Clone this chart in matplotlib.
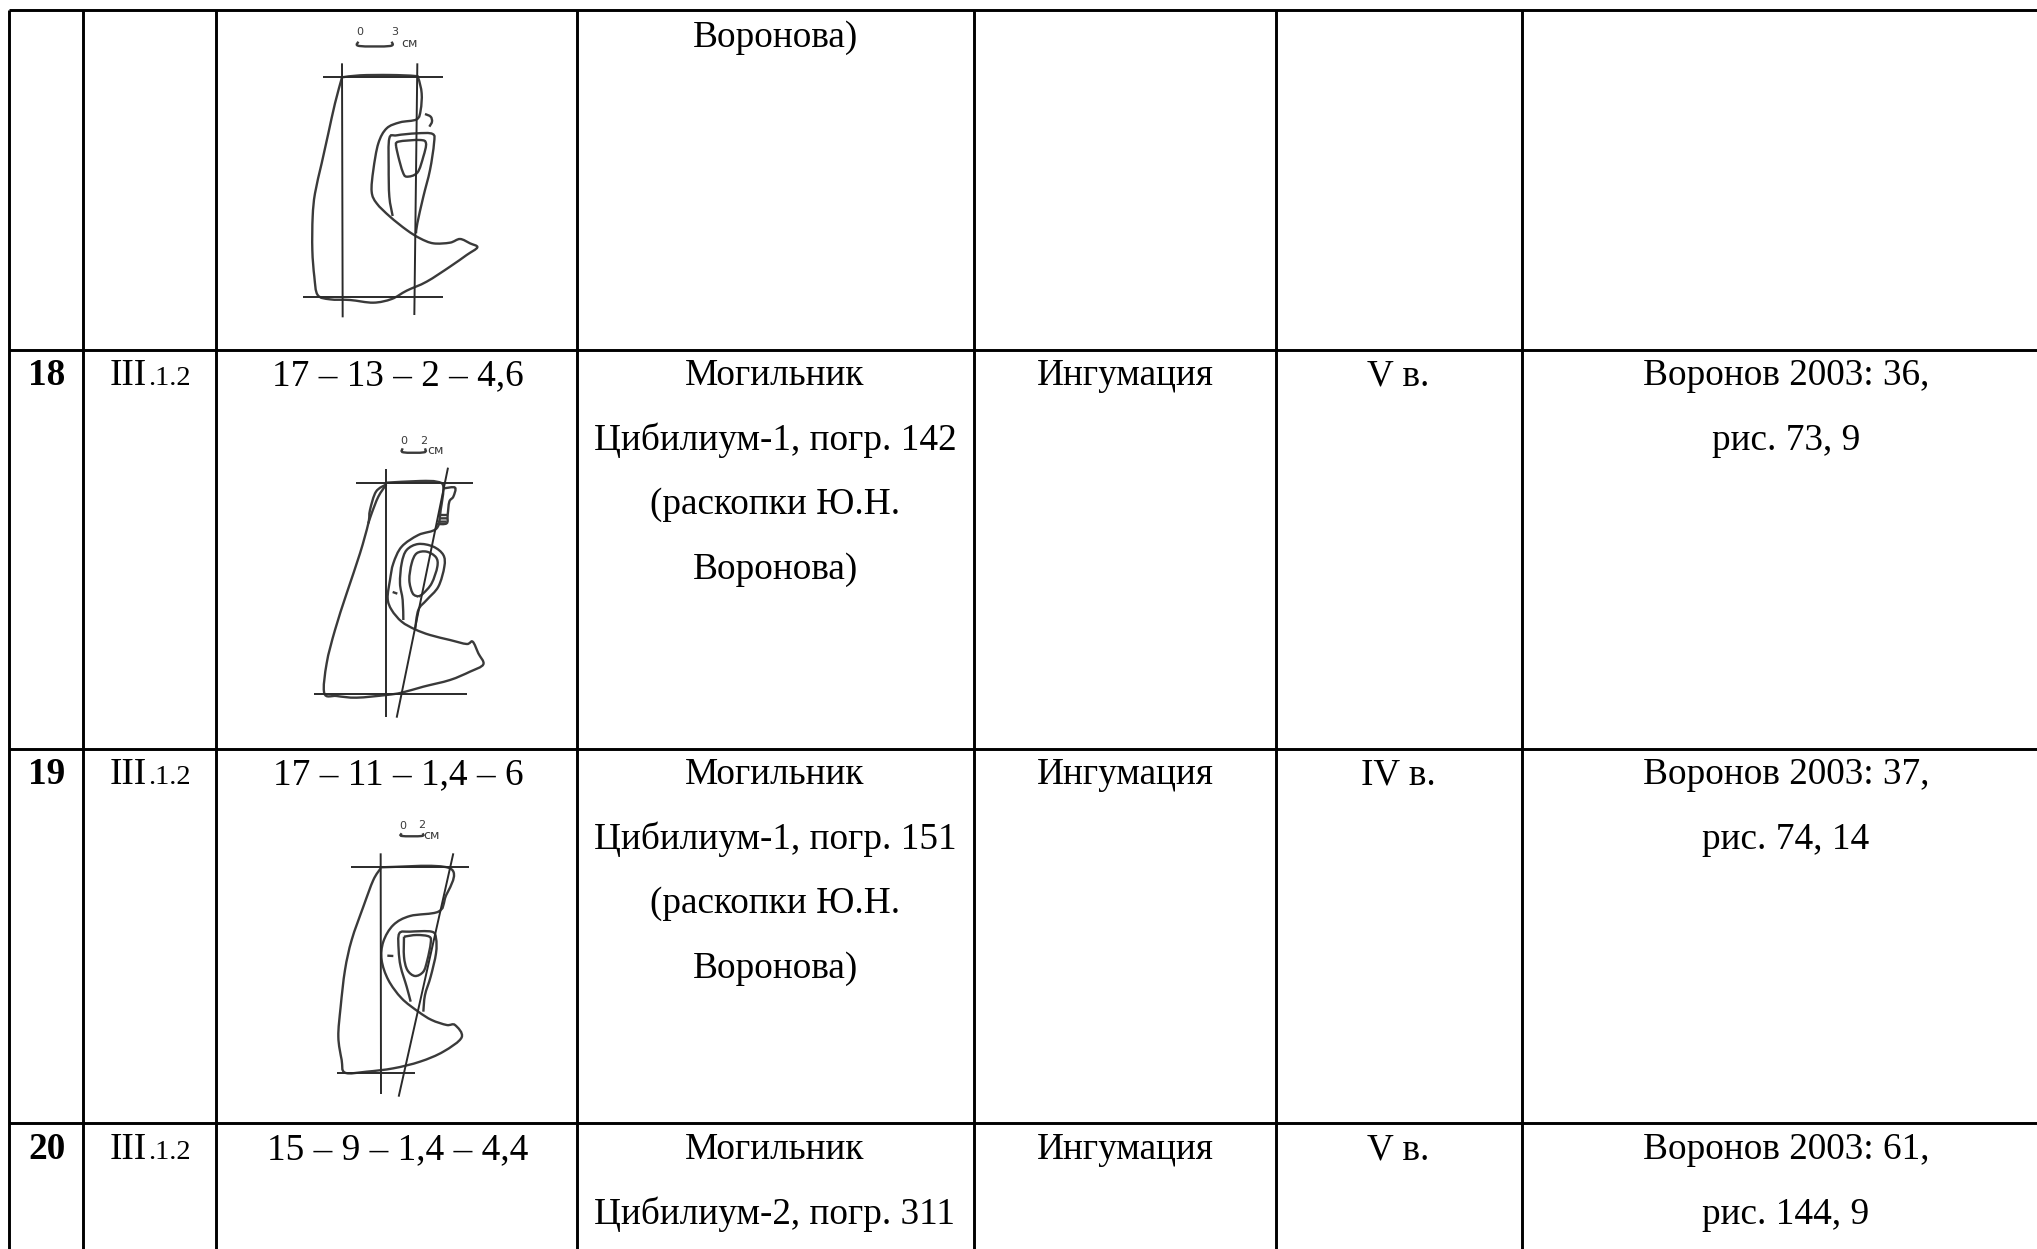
import matplotlib
matplotlib.use("Agg")
import matplotlib.pyplot as plt
from matplotlib.path import Path
from matplotlib.patches import PathPatch

plt.rcParams['font.family'] = ['Liberation Serif', 'DejaVu Serif']

W, H = 2037, 1249

## table grid, full size pixels
col_x = [9, 83, 216, 577, 974, 1276, 1522]
row_y = [10, 350, 749, 1123]

## rows of text
numbers = ["18", "19", "20"]
number_y = [385, 784, 1159]
sizes = ["17 – 13 – 2 – 4,6", "17 – 11 – 1,4 – 6", "15 – 9 – 1,4 – 4,4"]
places = [["Могильник", "Цибилиум-1, погр. 142", "(раскопки Ю.Н.", "Воронова)"],
          ["Могильник", "Цибилиум-1, погр. 151", "(раскопки Ю.Н.", "Воронова)"],
          ["Могильник", "Цибилиум-2, погр. 311"]]
rite = ["Ингумация", "Ингумация", "Ингумация"]
dates = ["V в.", "IV в.", "V в."]
refs = [["Воронов 2003: 36,", "рис. 73, 9"],
        ["Воронов 2003: 37,", "рис. 74, 14"],
        ["Воронов 2003: 61,", "рис. 144, 9"]]
top_text = "Воронова)"

d1_off = (280, 0)
d1_lines = [[(130, 231), (490, 231)], [(186, 190), (188, 952)], [(412, 190), (403, 945)], [(68, 890), (490, 890)]]
d1_curves = [
    [(186, 232), (165, 310), (145, 400), (125, 490), (105, 580), (98, 650), (97, 750), (103, 830), (113, 885),
     (150, 898), (210, 900), (280, 908), (335, 897), (380, 872), (440, 845), (510, 800), (560, 765), (592, 742),
     (570, 730), (540, 717), (510, 728), (460, 730), (420, 715), (380, 690), (330, 650), (290, 610), (275, 575),
     (280, 510), (295, 430), (320, 385), (360, 367), (410, 358), (422, 330), (425, 280), (415, 235), (405, 228),
     (330, 225), (240, 226), (186, 232)],
    [(338, 648), (328, 590), (326, 500), (328, 415), (350, 406), (410, 400), (458, 402), (462, 430), (450, 510),
     (430, 590), (412, 670), (408, 700)],
    [(348, 438), (355, 425), (420, 420), (438, 430), (430, 470), (412, 518), (380, 530), (368, 515), (355, 470),
     (348, 438)],
    [(435, 342), (452, 350), (456, 365), (448, 380)],
    [(235, 125), (238, 138), (330, 138), (335, 125)],
]
d1_labels = [(238, 95, "0"), (345, 95, "3"), (390, 130, "см")]

## drawing 2 (offset 290,420)
d2_off = (290, 420)
d2_lines = [[(198, 188), (550, 188)], [(289, 148), (289, 892)], [(474, 143), (320, 893)], [(72, 823), (532, 823)]]
d2_curves = [
    [(289, 193), (258, 215), (240, 270), (235, 310), (210, 400), (170, 520), (135, 630), (110, 730), (103, 820),
     (140, 828), (200, 833), (289, 825), (335, 818), (400, 800), (480, 780), (540, 755), (580, 733), (565, 700),
     (548, 665), (530, 672), (480, 660), (420, 645), (375, 628), (335, 605), (305, 570), (293, 535), (300, 480),
     (310, 430), (335, 380), (385, 345), (440, 325), (452, 270), (460, 200), (440, 185), (390, 183), (289, 188)],
    [(289, 193), (265, 230), (245, 280), (235, 310)],
    [(462, 205), (495, 203), (490, 230), (478, 245), (473, 285), (470, 310), (440, 312)],
    [(450, 285), (472, 285)], [(447, 295), (471, 295)], [(444, 305), (470, 305)],
    [(340, 600), (338, 540), (330, 490), (335, 430), (350, 390), (385, 372), (430, 380), (460, 405), (463, 440),
     (445, 500), (410, 540), (385, 570), (375, 630)],
    [(385, 530), (368, 520), (358, 480), (365, 430), (380, 400), (410, 395), (438, 412), (442, 440), (425, 490),
     (400, 520), (385, 530)],
    [(308, 516), (322, 521)],
    [(338, 85), (340, 97), (402, 97), (405, 85)],
]
d2_labels = [(342, 62, "0"), (402, 62, "2"), (435, 92, "см")]

## drawing 3 (offset 310,810)
d3_off = (310, 810)
d3_lines = [[(122, 172), (478, 172)], [(212, 130), (213, 852)], [(430, 130), (266, 860)], [(82, 790), (315, 790)]]
d3_curves = [
    [(212, 175), (190, 210), (160, 290), (125, 390), (105, 480), (92, 590), (85, 680), (95, 750), (105, 788),
     (170, 785), (250, 775), (330, 755), (400, 725), (455, 682), (435, 645), (410, 645), (365, 630), (325, 605),
     (275, 565), (235, 510), (215, 450), (220, 395), (250, 345), (300, 318), (385, 305), (405, 265), (420, 175),
     (212, 172)],
    [(302, 575), (290, 530), (272, 470), (266, 420), (268, 370), (300, 365), (365, 365), (378, 385), (378, 430),
     (362, 500), (345, 555), (340, 605)],
    [(282, 380), (282, 440), (292, 480), (315, 498), (340, 485), (352, 450), (362, 400), (358, 380), (320, 375),
     (282, 380)],
    [(232, 437), (250, 438)],
    [(275, 70), (276, 78), (335, 78), (338, 70)],
]
d3_labels = [(277, 47, "0"), (335, 45, "2"), (365, 75, "см")]

FS = 26.8
COL = "black"
LINE_H = 64.6

fig = plt.figure(figsize=(W / 100, H / 100), dpi=100, facecolor="white")
ax = fig.add_axes([0, 0, 1, 1])
ax.set_xlim(0, W)
ax.set_ylim(H, 0)
ax.axis("off")

for x in col_x:
    ax.plot([x, x], [row_y[0], H], color="black", lw=2.1, solid_capstyle="butt")
for y in row_y:
    ax.plot([col_x[0], W], [y, y], color="black", lw=2.1, solid_capstyle="butt")


def center(x, y, s, **kw):
    ax.text(x, y, s, ha="center", va="baseline", fontsize=FS, color=COL, **kw)


center(775, 47, top_text)
for i, y in enumerate(number_y):
    center(47, y, numbers[i], fontweight="bold")
    ax.text(110, y, "III", ha="left", va="baseline", fontsize=FS, color=COL)
    ax.text(148, y, ".1.2", ha="left", va="baseline", fontsize=20.5, color=COL)
    center(398, y, sizes[i])
    for j, s in enumerate(places[i]):
        center(775, y + j * LINE_H, s)
    center(1125, y, rite[i])
    center(1398, y, dates[i])
    for j, s in enumerate(refs[i]):
        center(1786, y + j * LINE_H, s)


def smooth_path(xs, ys):
    # catmull-rom through the traced points, so the outlines do not look faceted
    verts = [(xs[0], ys[0])]
    codes = [Path.MOVETO]
    n = len(xs)
    for i in range(n - 1):
        x0, y0 = xs[max(i - 1, 0)], ys[max(i - 1, 0)]
        x1, y1 = xs[i], ys[i]
        x2, y2 = xs[i + 1], ys[i + 1]
        x3, y3 = xs[min(i + 2, n - 1)], ys[min(i + 2, n - 1)]
        verts += [(x1 + (x2 - x0) / 6, y1 + (y2 - y0) / 6), (x2 - (x3 - x1) / 6, y2 - (y3 - y1) / 6), (x2, y2)]
        codes += [Path.CURVE4] * 3
    return Path(verts, codes)


def sketch(off, lines, curves, labels):
    for pts in lines:
        ax.plot([off[0] + p[0] / 3 for p in pts], [off[1] + p[1] / 3 for p in pts],
                color="#2a2a2a", lw=1.4, solid_capstyle="butt")
    for pts in curves:
        xs = [off[0] + p[0] / 3 for p in pts]
        ys = [off[1] + p[1] / 3 for p in pts]
        ax.add_patch(PathPatch(smooth_path(xs, ys), fill=False, edgecolor="#3a3a3a", lw=1.7))
    for x, y, s in labels:
        ax.text(off[0] + x / 3, off[1] + y / 3, s, ha="center", va="center",
                fontsize=9 if s == "см" else 8, color="#3a3a3a", family=["DejaVu Sans"])


sketch(d1_off, d1_lines, d1_curves, d1_labels)
sketch(d2_off, d2_lines, d2_curves, d2_labels)
sketch(d3_off, d3_lines, d3_curves, d3_labels)

fig.savefig("out.png", dpi=100)
